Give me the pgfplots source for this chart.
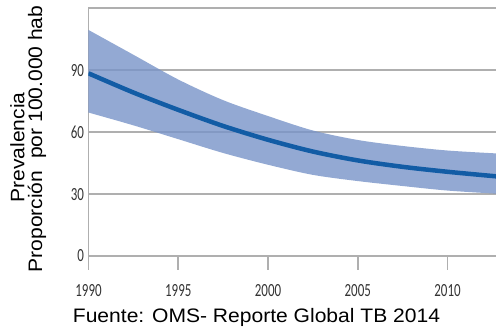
\documentclass[border=0pt]{standalone}
\usepackage{pgfplots}
\pgfplotsset{compat=1.18}
\usepgfplotslibrary{fillbetween}
\usepackage{fontspec}
\setmainfont{Liberation Sans}
\newfontfamily\tickfont[FakeStretch=0.7]{Carlito}
\newfontfamily\labfont[FakeStretch=1.08]{Liberation Sans}
\definecolor{bandc}{RGB}{120,148,200}
\definecolor{linec}{RGB}{18,92,165}
\definecolor{gridc}{RGB}{175,175,175}
\pgfplotstableread{
year mid lo hi
1990 88.5 69.5 109.5
1992.5 79.2 63.3 97.5
1995 70.8 56.6 85.5
1997.5 63 49.9 75.5
2000 56.3 44.2 67.8
2002.5 50.6 39.3 60.8
2005 46.3 36.3 56.2
2007.5 43.2 33.9 53.3
2010 40.8 31.7 51.1
2012.7 38.6 30.2 49.7
}\data
\begin{document}
\begin{tikzpicture}
\begin{axis}[
  at={(0,0)}, anchor=south west,
  scale only axis, width=407.5pt, height=247.7pt,
  xmin=1990, xmax=2012.7, ymin=0, ymax=120,
  axis x line=bottom, axis y line=left,
  axis line style={-, draw=gridc, line width=1.6pt},
  xtick={1990,1995,2000,2005,2010},
  ytick={0,30,60,90,120}, yticklabels={0,30,60,90,},
  ymajorgrids, grid style={draw=gridc, line width=1.6pt},
  tick align=outside, major tick length=14pt,
  xtick style={draw=gridc, line width=1.6pt},
  ytick style={draw=none},
  /pgf/number format/1000 sep={},
  /pgf/number format/assume math mode=true,
  ticklabel style={font=\tickfont\fontsize{18.5}{18.5}\selectfont, text=black!80},
  xticklabel style={yshift=-11pt},
  yticklabel style={xshift=13pt},
  clip=true,
]
\addplot[name path=hi, draw=none, smooth] table[x=year,y=hi]{\data};
\addplot[name path=lo, draw=none, smooth] table[x=year,y=lo]{\data};
\addplot[fill=bandc, fill opacity=0.8, draw=none] fill between[of=hi and lo];
\addplot[linec, line width=4.5pt, smooth] table[x=year,y=mid]{\data};
\end{axis}
\node[rotate=90, font=\labfont\fontsize{19.5}{19.5}\selectfont] at (-71pt,108.5pt) {Prevalencia};
\node[rotate=90, font=\labfont\fontsize{19.5}{19.5}\selectfont] at (-51.5pt,117pt) {Proporción\ \ por 100.000 hab};
\node[font=\labfont\fontsize{19.5}{19.5}\selectfont] at (168pt,-61pt) {Fuente: OMS- Reporte Global TB 2014};
\pgfresetboundingbox
\path[use as bounding box] (-88.5pt,-73pt) rectangle (407.5pt,256pt);
\end{tikzpicture}
\end{document}
